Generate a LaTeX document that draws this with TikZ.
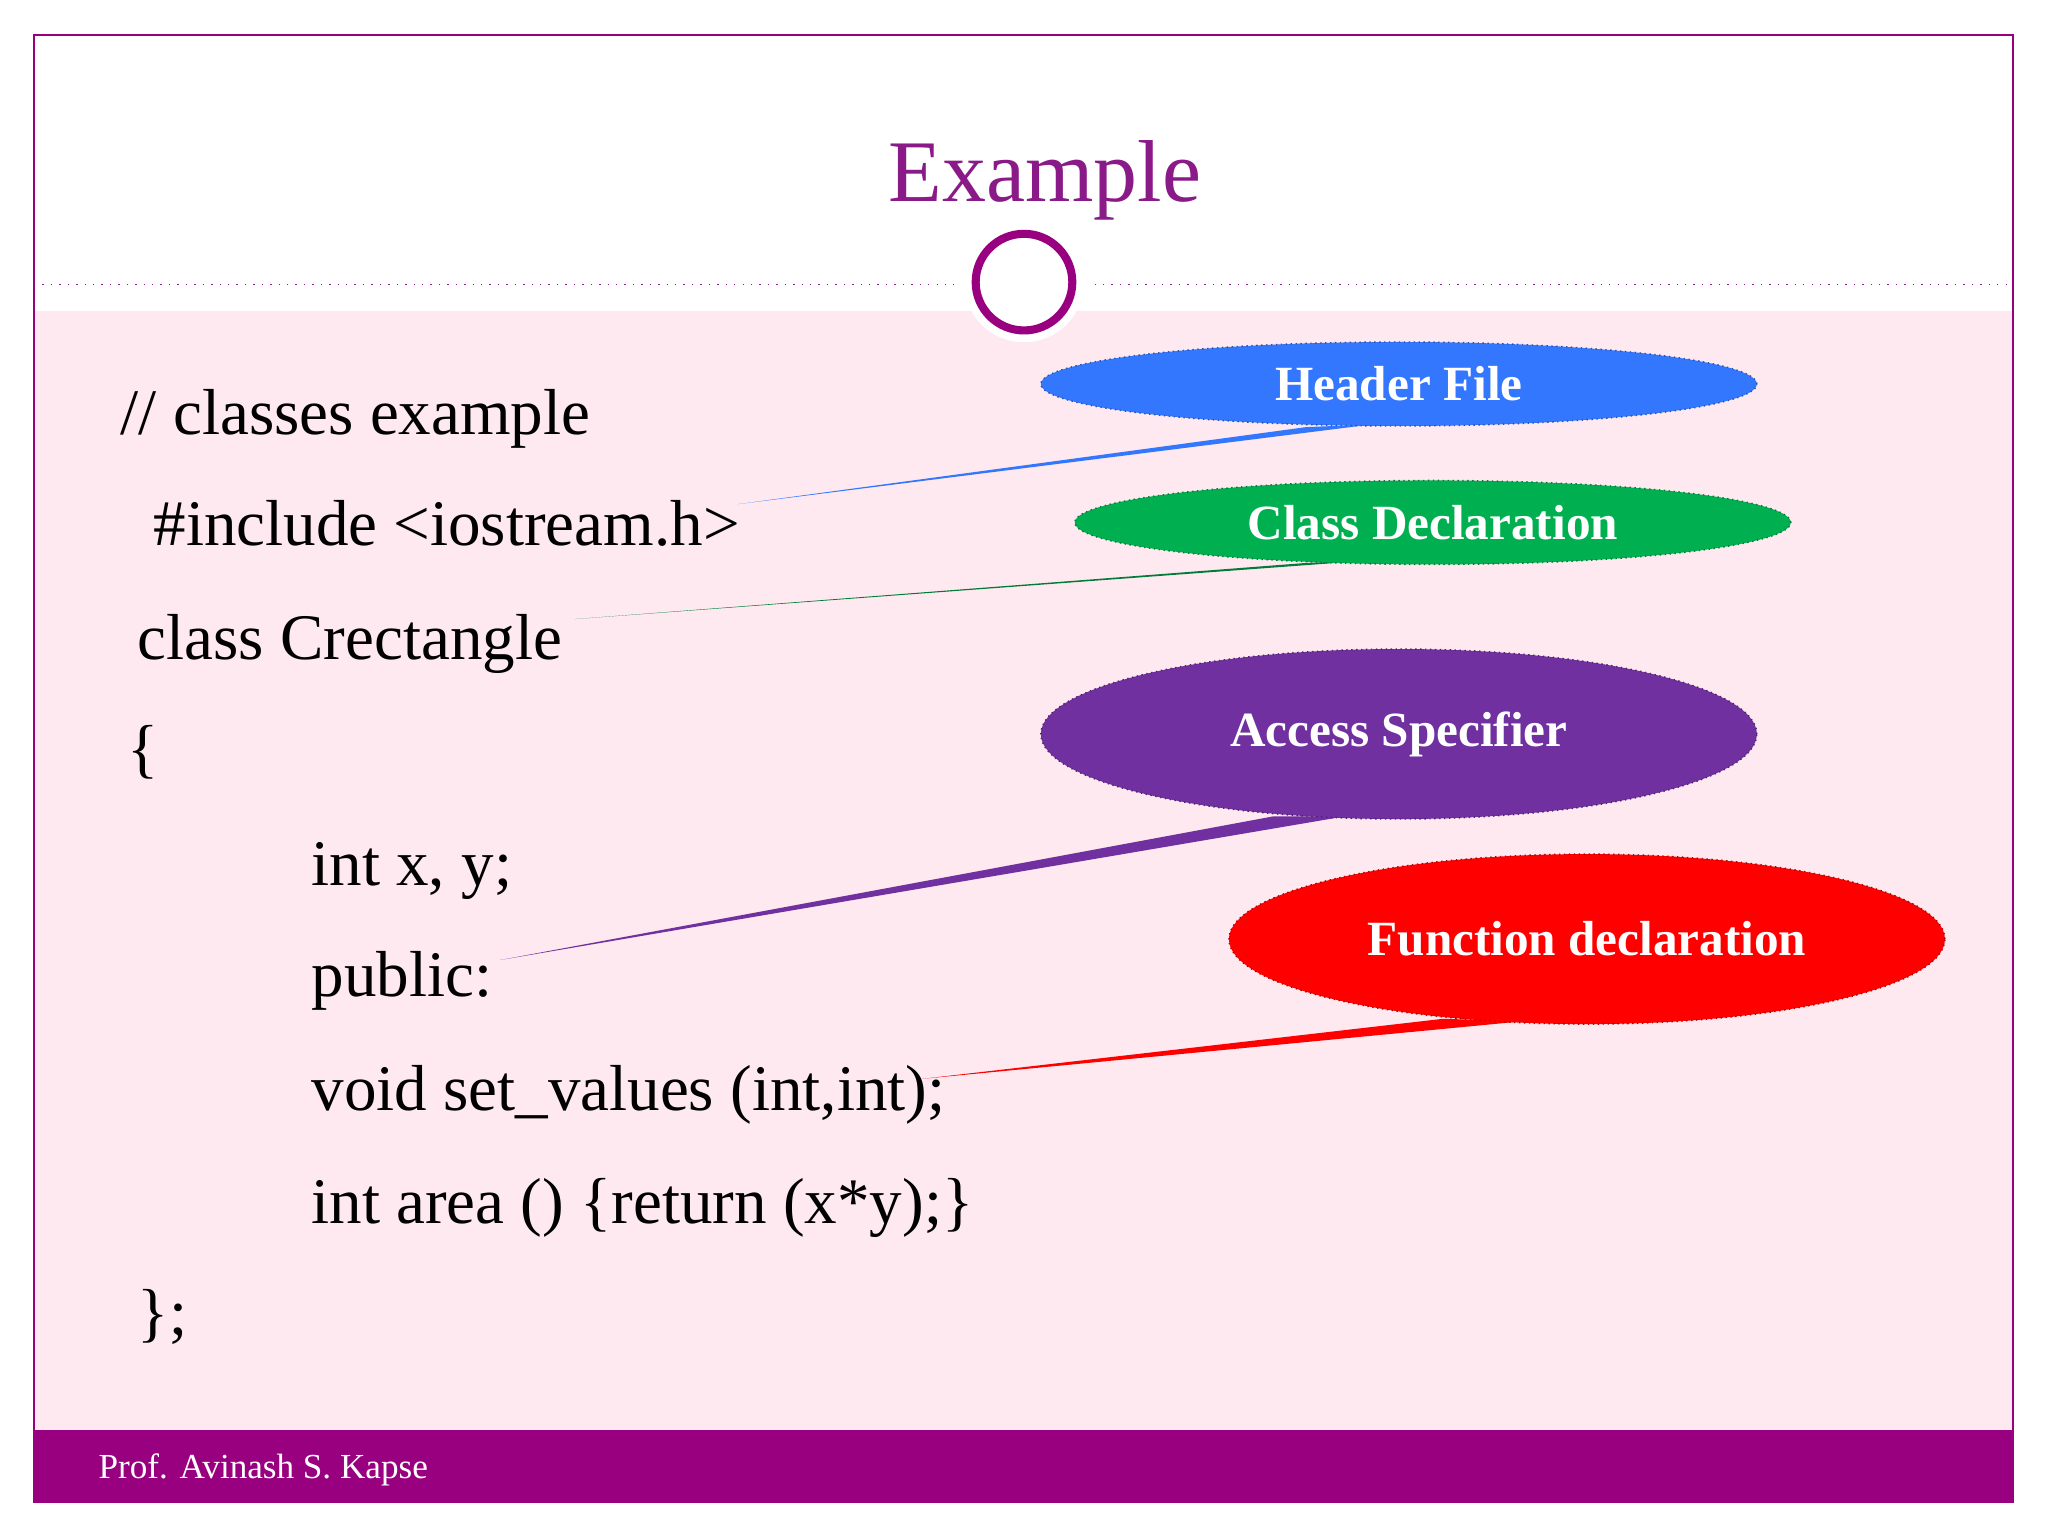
\documentclass[tikz,border=0pt]{standalone}
\usepackage{fontspec}
\setmainfont{Liberation Serif}
\usetikzlibrary{shapes.geometric}
\definecolor{pinkbg}{HTML}{FDE9EF}
\definecolor{purp}{HTML}{990080}
\definecolor{titlep}{HTML}{8B1A89}
\definecolor{hblue}{HTML}{3377FF}
\definecolor{cgreen}{HTML}{00B050}
\definecolor{apurple}{HTML}{7030A0}
\definecolor{fred}{HTML}{FF0000}
\begin{document}
\begin{tikzpicture}[x=0.013061cm,y=-0.013061cm,
  code/.style={anchor=base west,font=\fontsize{18.5}{20}\selectfont,inner sep=0},
  bub/.style={ellipse,draw=#1!70!black,densely dotted,fill=#1,text=white,font=\bfseries\fontsize{14}{16}\selectfont,inner sep=0},
  tail/.style={fill=#1,draw=none}]
\useasboundingbox (0,0) rectangle (1568,1176);
\fill[white] (0,0) rectangle (1568,1176);
\fill[pinkbg] (26,238) rectangle (1541,1095);
\fill[purp] (26,1095) rectangle (1541,1150);
\draw[purp,line width=0.6pt] (26,27) rectangle (1541,1150);
\draw[titlep,dotted] (26,218) -- (730,218) (838,218) -- (1541,218);
\fill[white] (784,216) circle (46);
\draw[purp,line width=2.3pt] (784,216) circle (37);
\node[text=titlep,font=\fontsize{25}{28}\selectfont] (title) at (800,138) {Example};
\node[anchor=west,text=white,font=\fontsize{10}{12}\selectfont] (foot) at (66,1125) {Prof. Avinash S. Kapse};
% tails
\fill[hblue] (1000,327) -- (1050,325) -- (565,386) -- cycle;
\fill[cgreen!70!black] (1000,431) -- (1050,429) -- (440,474) -- cycle;
\fill[apurple] (975,625) -- (1030,625) -- (383,735) -- cycle;
\fill[fred] (1105,780) -- (1165,782) -- (706,826) -- cycle;
% bubbles
\node[bub=hblue,minimum width=548\pgflinewidth*0+7.16cm,minimum height=0.84cm] (hf) at (1071,294) {Header File};
\node[bub=cgreen,minimum width=7.16cm,minimum height=0.84cm] (cd) at (1097,400) {Class Declaration};
\node[bub=apurple,minimum width=7.16cm,minimum height=1.7cm] (as) at (1071,562) {Access Specifier};
\node[bub=fred,minimum width=7.16cm,minimum height=1.7cm] (fd) at (1215,719) {Function declaration};
% code
\node[code] (l1) at (92,333) {// classes example};
\node[code] (l2) at (117,418) {\#include <iostream.h>};
\node[code] (l3) at (105,505) {class Crectangle};
\node[code] (l4) at (97,590) {\{};
\node[code] (l5) at (238,678) {int x, y;};
\node[code] (l6) at (238,763) {public:};
\node[code] (l7) at (238,850) {void set\_values (int,int);};
\node[code] (l8) at (238,937) {int area () \{return (x*y);\}};
\node[code] (l9) at (105,1022) {\};};
\end{tikzpicture}
\end{document}
